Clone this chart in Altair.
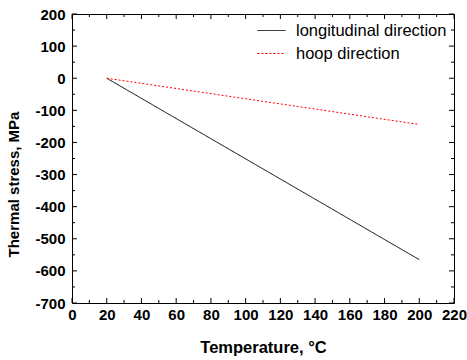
import altair as alt
import pandas as pd

# Data
temperature = [20, 200]
longitudinal = [0, -565]
hoop = [0, -144]
series_names = ["longitudinal direction", "hoop direction"]

x_major = [0, 20, 40, 60, 80, 100, 120, 140, 160, 180, 200, 220]
x_minor = [10, 30, 50, 70, 90, 110, 130, 150, 170, 190, 210]
y_major = [-700, -600, -500, -400, -300, -200, -100, 0, 100, 200]
y_minor = [-650, -550, -450, -350, -250, -150, -50, 50, 150]

W, H = 382, 289

rows = []
for t, v in zip(temperature, longitudinal):
    rows.append({"T": t, "S": v, "series": series_names[0]})
for t, v in zip(temperature, hoop):
    rows.append({"T": t, "S": v, "series": series_names[1]})
df = pd.DataFrame(rows)

xs = alt.Scale(domain=[0, 220], nice=False, zero=False)
ys = alt.Scale(domain=[-700, 200], nice=False, zero=False)

lines = alt.Chart(df).mark_line(strokeWidth=1).encode(
    x=alt.X("T:Q", scale=xs, axis=alt.Axis(
        values=x_major, title="Temperature, °C", ticks=False, domain=False, grid=False,
        labelOverlap=False, labelFlush=False, labelExpr="datum.value + ''",
        labelFont="Liberation Sans", labelFontSize=15, labelFontWeight="bold", labelColor="black",
        labelPadding=4, titleFont="Liberation Sans", titleFontSize=16.5, titleFontWeight="bold",
        titleColor="black", titlePadding=17)),
    y=alt.Y("S:Q", scale=ys, axis=alt.Axis(
        values=y_major, title="Thermal stress, MPa", ticks=False, domain=False, grid=False,
        labelOverlap=False, labelFlush=False, labelExpr="datum.value + ''",
        labelFont="Liberation Sans", labelFontSize=15, labelFontWeight="bold", labelColor="black",
        labelPadding=7, titleFont="Liberation Sans", titleFontSize=15, titleFontWeight="bold",
        titleColor="black", titleY=170, titleX=-51)),
    color=alt.Color("series:N", scale=alt.Scale(domain=series_names, range=["black", "red"]),
                    legend=alt.Legend(title=None, orient="none", legendX=185, legendY=2,
                                      symbolType="stroke", symbolSize=784, symbolStrokeWidth=1,
                                      labelFont="Liberation Sans", labelFontSize=16.5,
                                      labelColor="black", labelOffset=10, rowPadding=0,
                                      padding=0)),
    strokeDash=alt.StrokeDash("series:N", scale=alt.Scale(domain=series_names, range=[[1, 0], [2, 2]]),
                              legend=None),
)

def tick_df(vals):
    return pd.DataFrame({"t": vals})

def xticks(vals, length):
    d = tick_df(vals)
    bottom = alt.Chart(d).mark_rule(color="black", strokeWidth=1).encode(
        x=alt.X("t:Q", scale=xs, axis=None), y=alt.value(H), y2=alt.value(H - length))
    top = alt.Chart(d).mark_rule(color="black", strokeWidth=1).encode(
        x=alt.X("t:Q", scale=xs, axis=None), y=alt.value(0), y2=alt.value(length))
    return [bottom, top]

def yticks(vals, length):
    d = tick_df(vals)
    left = alt.Chart(d).mark_rule(color="black", strokeWidth=1).encode(
        y=alt.Y("t:Q", scale=ys, axis=None), x=alt.value(0), x2=alt.value(length))
    right = alt.Chart(d).mark_rule(color="black", strokeWidth=1).encode(
        y=alt.Y("t:Q", scale=ys, axis=None), x=alt.value(W), x2=alt.value(W - length))
    return [left, right]

layers = [lines] + xticks(x_major, 5) + xticks(x_minor, 3) + yticks(y_major, 5) + yticks(y_minor, 3)

chart = alt.layer(*layers).resolve_axis(x="independent", y="independent").properties(
    width=W, height=H,
    autosize=alt.AutoSizeParams(type="none"),
    padding={"left": 72, "top": 14, "right": 13, "bottom": 57},
    background="white",
).configure_view(stroke="black", strokeWidth=1).configure_axis(labelOverlap=False, labelFlush=False)

chart.save("out.html", embed_options={"renderer": "svg", "actions": False})
